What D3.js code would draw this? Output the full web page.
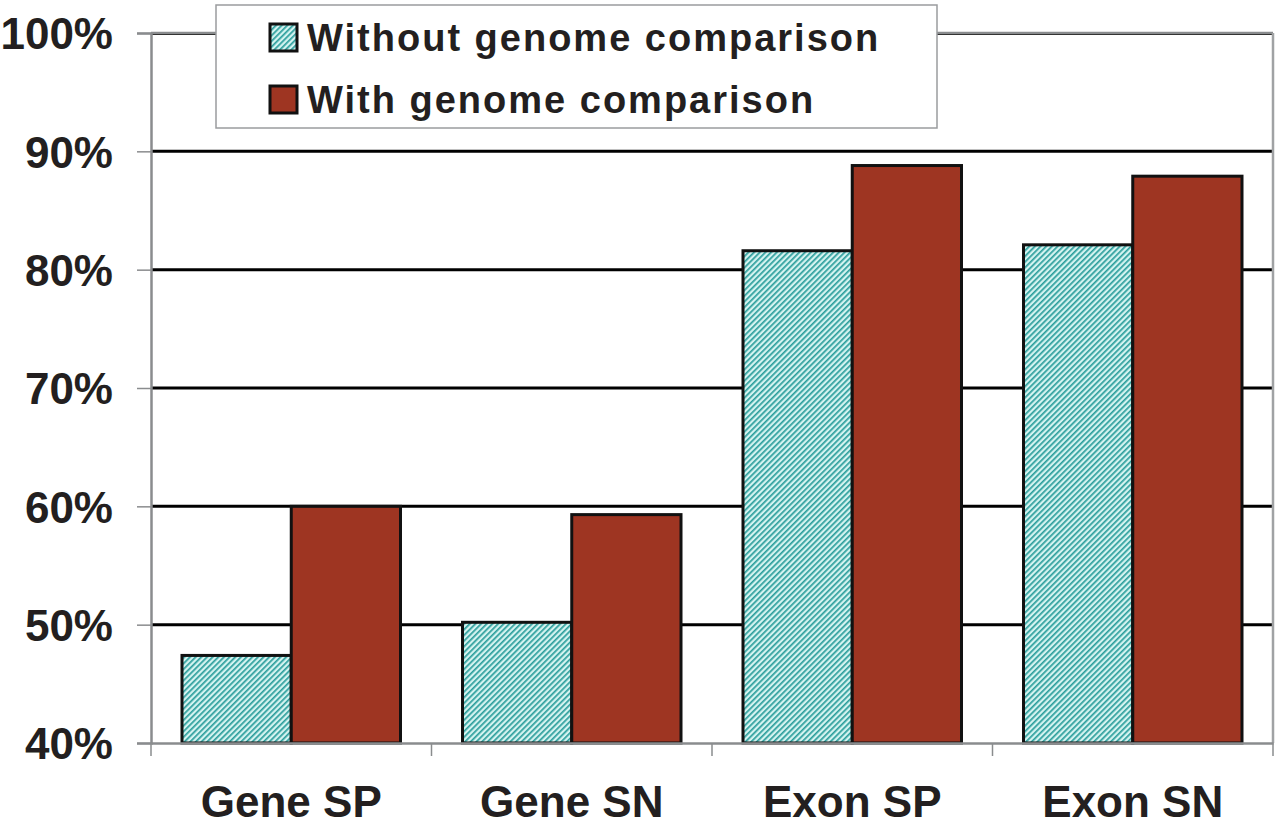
<!DOCTYPE html>
<meta charset="utf-8">
<style>
  body, html { margin:0; padding:0; background:#fff; }
  text { font-family: "Liberation Sans", Arial, Helvetica, sans-serif; font-weight: bold; fill: #231f20; }
</style>
<body>
<svg width="1280" height="826"></svg>
<script src="https://cdnjs.cloudflare.com/ajax/libs/d3/7.8.5/d3.min.js"></script>
<script>
// data
var categories = ["Gene SP", "Gene SN", "Exon SP", "Exon SN"];
var seriesNames = ["Without genome comparison", "With genome comparison"];
var withoutGenome = [47.4, 50.2, 81.6, 82.1];
var withGenome = [60.0, 59.3, 88.8, 87.9];
var yTicks = [40, 50, 60, 70, 80, 90, 100];

var svg = d3.select("svg");
var margin = {top: 33, right: 7, bottom: 83, left: 151},
    width = 1280 - margin.left - margin.right,
    height = 826 - margin.top - margin.bottom;

var defs = svg.append("defs");
var pat = defs.append("pattern")
    .attr("id", "hatch")
    .attr("patternUnits", "userSpaceOnUse")
    .attr("width", 4).attr("height", 4)
    .attr("patternTransform", "rotate(45)");
pat.append("rect").attr("width", 4).attr("height", 4).attr("fill", "#d4f3f0");
pat.append("rect").attr("width", 1.7).attr("height", 4).attr("fill", "#2b9e9c");

var colors = ["url(#hatch)", "#9e3522"];

var g = svg.append("g").attr("transform", "translate(" + margin.left + "," + margin.top + ")");

var x0 = d3.scaleBand().domain(categories).range([0, width]).paddingInner(0).paddingOuter(0);
var x1 = d3.scaleBand().domain([0, 1]).range([31, x0.bandwidth() - 31]);
var y = d3.scaleLinear().domain([40, 100]).range([height, 0]);

// gridlines
g.selectAll(".grid")
    .data(yTicks.filter(function(d) { return d > 40 && d < 100; }))
    .enter().append("line")
    .attr("x1", 0).attr("x2", width)
    .attr("y1", function(d) { return y(d); })
    .attr("y2", function(d) { return y(d); })
    .attr("stroke", "#000").attr("stroke-width", 3);

// plot frame (top, right)
g.append("line").attr("x1", 0).attr("x2", width).attr("y1", 0).attr("y2", 0)
    .attr("stroke", "#8a8c8e").attr("stroke-width", 2.5);
g.append("line").attr("x1", 0).attr("x2", width).attr("y1", 1.5).attr("y2", 1.5)
    .attr("stroke", "#333").attr("stroke-width", 1);
g.append("line").attr("x1", width).attr("x2", width).attr("y1", 0).attr("y2", height)
    .attr("stroke", "#a0a2a4").attr("stroke-width", 2.5);

// bars
var rows = categories.map(function(c, i) { return {cat: c, vals: [withoutGenome[i], withGenome[i]]}; });
var grp = g.selectAll(".cat").data(rows).enter().append("g")
    .attr("transform", function(d) { return "translate(" + x0(d.cat) + ",0)"; });
grp.selectAll("rect")
    .data(function(d) { return d.vals.map(function(v, k) { return {k: k, v: v}; }); })
    .enter().append("rect")
    .attr("x", function(d) { return x1(d.k); })
    .attr("width", x1.bandwidth())
    .attr("y", function(d) { return y(d.v); })
    .attr("height", function(d) { return height - y(d.v); })
    .attr("fill", function(d) { return colors[d.k]; })
    .attr("stroke", "#111").attr("stroke-width", 3);

// y axis
var yAxis = g.append("g")
    .call(d3.axisLeft(y).tickValues(yTicks).tickSize(14).tickPadding(24)
        .tickFormat(function(d) { return d + "%"; }));
yAxis.select(".domain").attr("stroke", "#8a8c8e").attr("stroke-width", 2.5);
yAxis.selectAll(".tick line").attr("stroke", "#8a8c8e").attr("stroke-width", 1.5);
yAxis.selectAll(".tick text")
    .style("font-size", "44px").attr("fill", "#231f20").attr("dy", "0.36em");

// x axis
var xAxis = g.append("g")
    .attr("transform", "translate(0," + height + ")")
    .call(d3.axisBottom(x0).tickSize(0).tickPadding(43));
xAxis.select(".domain").attr("stroke", "#8a8c8e").attr("stroke-width", 2.5);
xAxis.selectAll(".tick text").style("font-size", "44px").attr("fill", "#231f20");
xAxis.selectAll(".sep")
    .data(d3.range(categories.length + 1))
    .enter().append("line")
    .attr("x1", function(d) { return d * x0.bandwidth(); })
    .attr("x2", function(d) { return d * x0.bandwidth(); })
    .attr("y1", 0).attr("y2", 13)
    .attr("stroke", "#8a8c8e").attr("stroke-width", 1.5);

// legend
var legend = svg.append("g").attr("transform", "translate(216,5)");
legend.append("rect").attr("width", 721).attr("height", 123)
    .attr("fill", "#fff").attr("stroke", "#9a9c9e").attr("stroke-width", 1.5);
var item = legend.selectAll(".item").data(seriesNames).enter().append("g")
    .attr("transform", function(d, i) { return "translate(0," + (i * 62) + ")"; });
item.append("rect")
    .attr("x", 54).attr("y", 19).attr("width", 27).attr("height", 27)
    .attr("fill", function(d, i) { return colors[i]; })
    .attr("stroke", "#111").attr("stroke-width", 3);
item.append("text")
    .attr("x", 91).attr("y", 46)
    .style("font-size", "38px").style("letter-spacing", "2px")
    .text(function(d) { return d; });
</script>
</body>
